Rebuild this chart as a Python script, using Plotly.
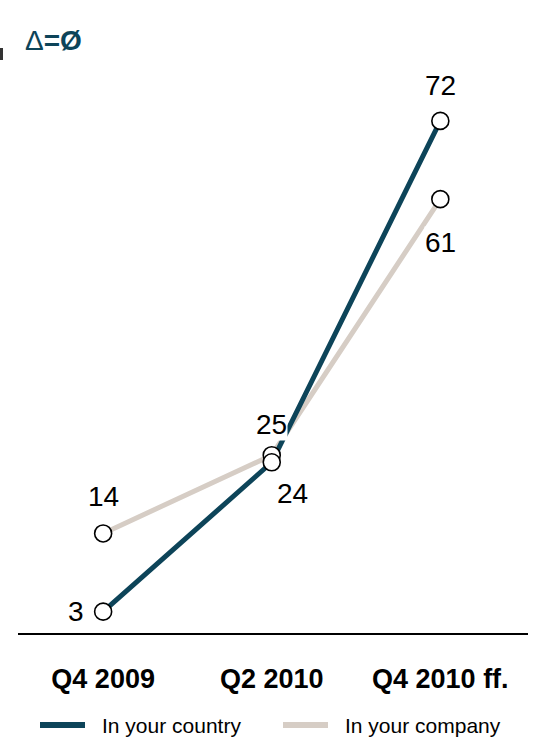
import plotly.graph_objects as go

categories = ["Q4 2009", "Q2 2010", "Q4 2010 ff."]
country = [3, 24, 72]
company = [14, 25, 61]
series_names = ["In your country", "In your company"]
title_text = "Δ=Ø"

DARK = "#0d4459"
GRAY = "#d6cdc5"
FONT = "Liberation Sans, Arial, sans-serif"

xs = list(range(len(categories)))

PW, PH, ML, MT = 510, 569, 18, 64


def px(x):
    return (x - ML) / PW


def py(y):
    return (MT + PH - y) / PH


fig = go.Figure()
fig.add_trace(go.Scatter(x=xs, y=company, mode="lines", name=series_names[1],
                         line=dict(color=GRAY, width=5), showlegend=False))
fig.add_trace(go.Scatter(x=xs, y=country, mode="lines", name=series_names[0],
                         line=dict(color=DARK, width=5), showlegend=False))
for vals in (company, country):
    fig.add_trace(go.Scatter(x=xs, y=vals, mode="markers", showlegend=False,
                             marker=dict(size=17, color="white",
                                         line=dict(color="black", width=1.6))))

# label offsets (pixels) per point
country_off = [(-27, 0), (21, -31), (0, 35)]
company_off = [(0, 37), (0, 31), (0, -43)]
for vals, offs in ((country, country_off), (company, company_off)):
    for x, v, (dx, dy) in zip(xs, vals, offs):
        fig.add_annotation(x=x, y=v, text=str(v), showarrow=False,
                           xshift=dx, yshift=dy, bgcolor="white", borderpad=0,
                           font=dict(family=FONT, size=28, color="black"))

fig.add_annotation(xref="paper", yref="paper", x=px(23), y=py(40),
                   xanchor="left", yanchor="middle", showarrow=False,
                   text="Δ<b>=Ø</b>",
                   font=dict(family=FONT, size=28, color=DARK))

fig.add_shape(type="rect", xref="paper", yref="paper",
              x0=px(0), x1=px(3), y0=py(60), y1=py(48),
              fillcolor="#333333", line=dict(width=0))

# legend (drawn manually)
legend_items = [(series_names[0], DARK, 40), (series_names[1], GRAY, 283)]
for name, col, x0 in legend_items:
    fig.add_shape(type="line", xref="paper", yref="paper",
                  x0=px(x0), x1=px(x0 + 45), y0=py(725), y1=py(725),
                  line=dict(color=col, width=6))
    fig.add_annotation(xref="paper", yref="paper", x=px(x0 + 60), y=py(725),
                       xanchor="left", yanchor="middle", showarrow=False,
                       text=name, font=dict(family=FONT, size=21, color="black"))

fig.update_xaxes(range=[-0.505, 2.52], tickvals=xs, ticktext=categories,
                 showgrid=False, zeroline=False, showline=True,
                 linecolor="black", linewidth=2, automargin=False,
                 ticks="outside", ticklen=21, tickcolor="rgba(0,0,0,0)",
                 tickfont=dict(family=FONT, size=27, color="black", weight="bold"))
fig.update_yaxes(range=[0, 80], visible=False, showgrid=False, zeroline=False,
                 automargin=False)

fig.update_layout(
    width=535, height=741,
    margin=dict(l=ML, r=535 - ML - PW, t=MT, b=741 - MT - PH, autoexpand=False),
    paper_bgcolor="white", plot_bgcolor="white",
    font=dict(family=FONT),
    showlegend=False,
)

fig.write_html("out.html", config={"displayModeBar": False},
               post_script="document.body.style.margin='0';document.body.style.overflow='hidden';")
